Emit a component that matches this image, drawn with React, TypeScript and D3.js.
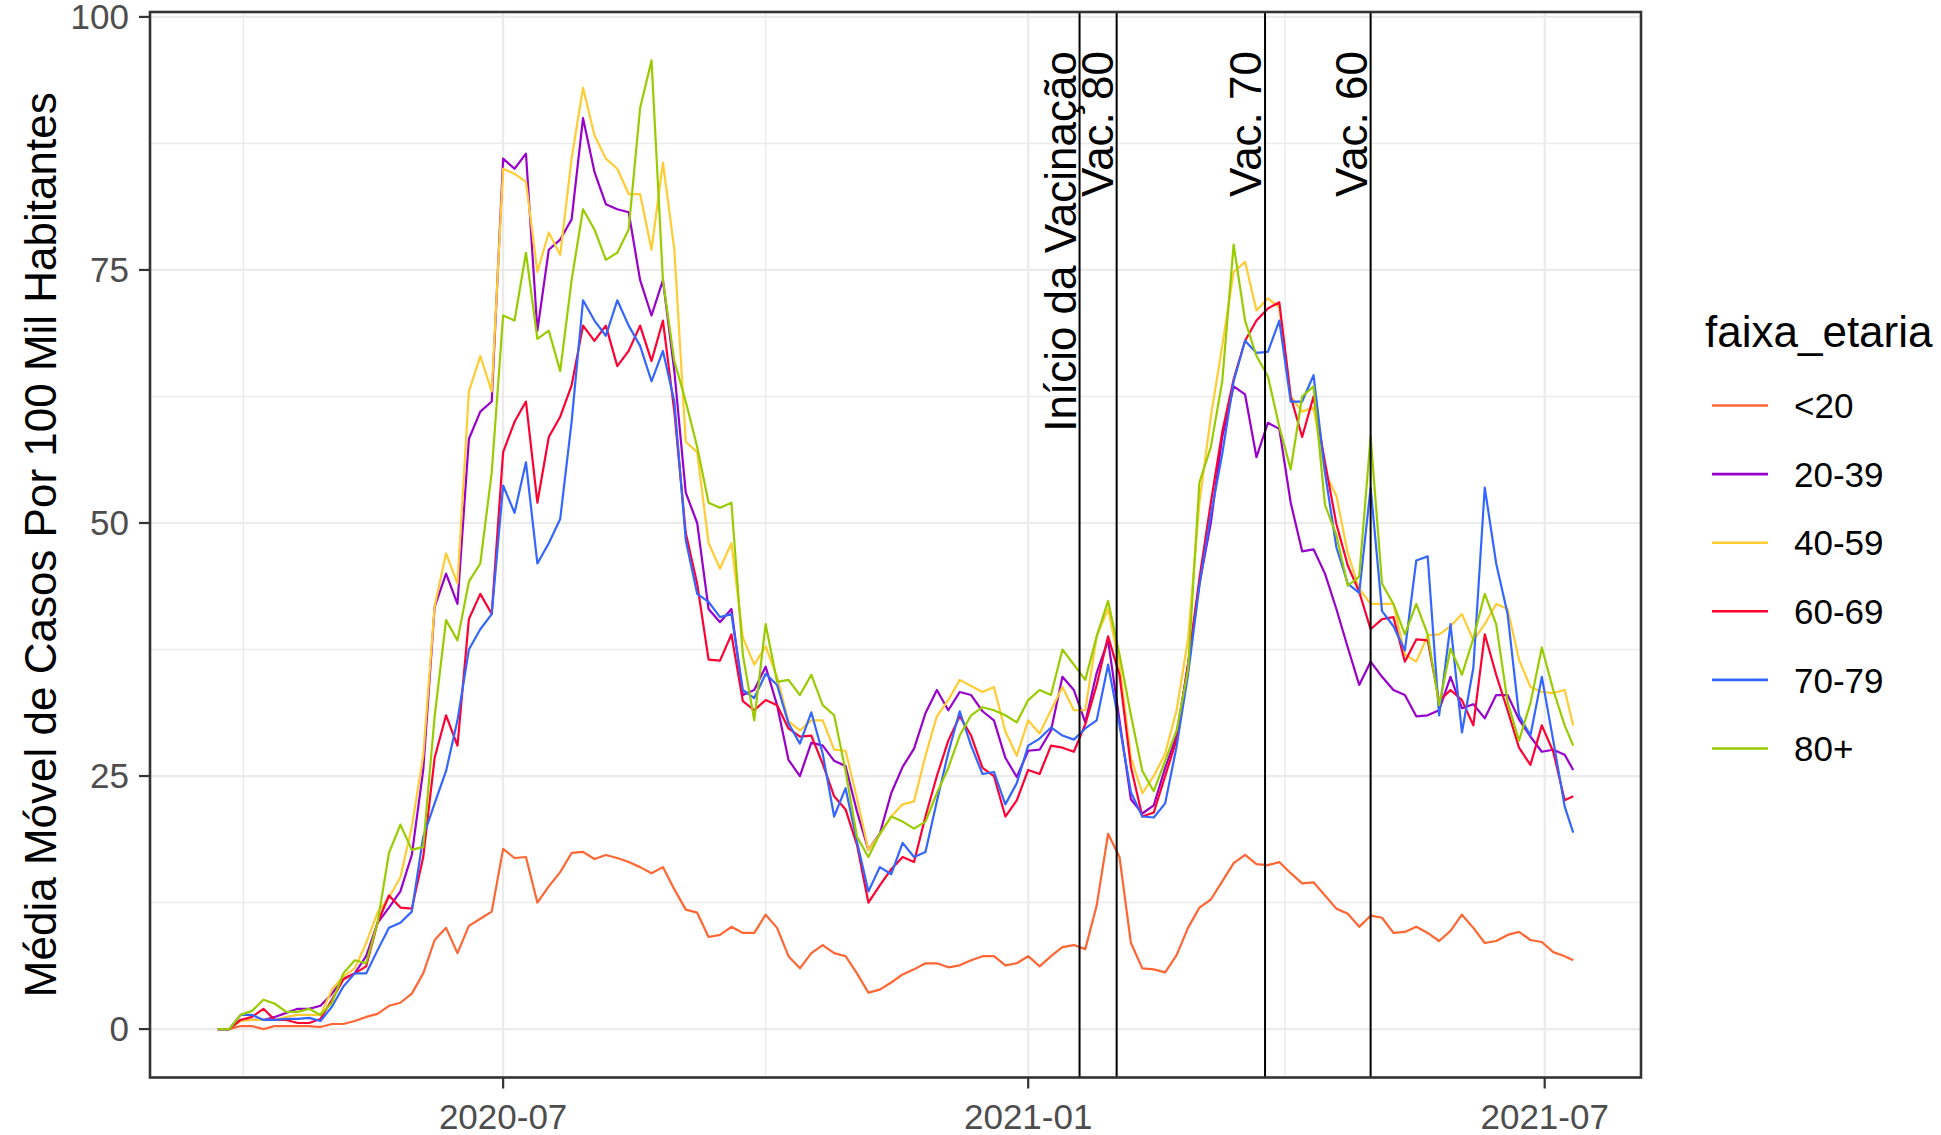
import React from "react";
import * as d3 from "d3";

const W = 1941;
const H = 1135;

// sampling of the moving-average series (every 4 days from START, last sample clamped to END)
const START = "2020-03-23";
const END = "2021-07-11";
const STEP_DAYS = 4;

const groups = ["<20", "20-39", "40-59", "60-69", "70-79", "80+"];
const colors = ["#FF6633", "#9900CC", "#FFCC33", "#FF0033", "#3366FF", "#99CC00"];

const lt20 = [
  0, 0, 0.3, 0.3, 0, 0.3, 0.3, 0.3, 0.3, 0.2,
  0.5, 0.5, 0.8, 1.2, 1.5, 2.3, 2.6, 3.5, 5.5, 8.8,
  10, 7.5, 10.2, 10.9, 11.6, 17.8, 16.9, 17, 12.5, 14.1,
  15.5, 17.4, 17.5, 16.8, 17.2, 16.9, 16.5, 16, 15.4, 16,
  13.8, 11.8, 11.5, 9.1, 9.3, 10.1, 9.5, 9.5, 11.3, 10,
  7.2, 6, 7.5, 8.3, 7.5, 7.2, 5.5, 3.6, 3.9, 4.6,
  5.4, 5.9, 6.5, 6.5, 6.1, 6.3, 6.8, 7.2, 7.2, 6.3,
  6.5, 7.2, 6.2, 7.2, 8.1, 8.3, 7.9, 12.2, 19.3, 17,
  8.5, 6, 5.9, 5.6, 7.3, 10, 12, 12.8, 14.6, 16.4,
  17.2, 16.3, 16.2, 16.5, 15.4, 14.4, 14.5, 13.2, 11.9, 11.4,
  10.1, 11.2, 11, 9.5, 9.6, 10.1, 9.5, 8.7, 9.7, 11.3,
  10, 8.5, 8.7, 9.3, 9.6, 8.8, 8.6, 7.6, 7.2, 6.8,
];

const g20_39 = [
  0, 0, 0.9, 0.9, 0.9, 1.2, 1.6, 2, 2, 2.3,
  3.5, 5, 5.5, 7.2, 10.5, 12, 13.6, 17.2, 25.6, 41.7,
  45, 42, 58.3, 61, 62, 86, 85, 86.5, 69, 77,
  78, 80, 90, 84.7, 81.5, 81, 80.7, 74, 70.5, 74,
  65, 53, 50, 41.5, 40.2, 41.5, 33, 33.5, 35.8, 32,
  26.6, 25, 28.3, 28, 26.5, 26, 21.5, 17.7, 19.3, 23.3,
  25.9, 27.7, 31.2, 33.5, 31.5, 33.3, 33, 31.4, 30.5, 26.8,
  24.9, 27.5, 27.6, 29.5, 34.8, 33.5, 30.3, 35.2, 38.4, 30.5,
  22.7, 21.3, 22.1, 25.8, 29, 36, 44, 50, 58.5, 63.5,
  62.7, 56.5, 59.9, 59.3, 52, 47.2, 47.4, 45, 41.5, 37.7,
  34, 36.3, 34.8, 33.5, 33, 30.9, 31, 31.5, 34.8, 31.7,
  32.1, 30.7, 33, 33, 30.6, 28.9, 27.4, 27.6, 27.1, 25.6,
];

const g40_59 = [
  0, 0, 0.8, 0.9, 0.9, 0.9, 1.2, 1.4, 1.4, 1.4,
  3.9, 5.2, 6, 8.5, 11.5, 13, 15, 20, 27, 41.8,
  47, 44, 63, 66.5, 63, 85, 84.5, 83.7, 74.8, 78.7,
  76.5, 86, 93, 88.3, 86, 85, 82.5, 82.5, 77, 85.6,
  77, 58, 57, 48, 45.5, 48, 38.7, 36, 37.8, 34.8,
  30.4, 29.5, 30.5, 30.5, 27.6, 27.5, 22.8, 17.7, 19.2, 21,
  22.2, 22.5, 27, 30.9, 32.5, 34.5, 33.9, 33.3, 33.8, 29.4,
  27, 30.5, 29.2, 31.5, 33.8, 31.5, 31.5, 38.8, 41.5, 36,
  26.8, 23.3, 25, 27.2, 31.5, 38.5, 52, 60.5, 67.5, 74.8,
  75.8, 71, 72.2, 71.3, 62.5, 61, 61.4, 55, 52.7, 47,
  43.5, 42, 42, 42, 37, 36.3, 38.9, 39, 39.8, 41,
  38.4, 40, 42, 41.5, 36.5, 33.8, 33.3, 33.2, 33.5, 30,
];

const g60_69 = [
  0, 0, 0.9, 1.2, 2, 0.9, 0.9, 0.6, 0.6, 1,
  2.9, 4.9, 5.5, 6.2, 10.5, 13.2, 12, 11.9, 17, 26.8,
  31, 28, 40.5, 43, 41, 57, 60, 62, 52, 58.5,
  60.5, 63.6, 69.5, 68, 69.5, 65.5, 67, 69.5, 66, 70,
  61, 49, 44, 36.5, 36.4, 39, 32.4, 31.5, 32.5, 32,
  29.7, 28.9, 29, 26.2, 23, 21.7, 18.2, 12.5, 14.2, 15.8,
  17, 16.5, 21, 25, 28.5, 30.9, 29, 25.8, 25, 21,
  22.6, 25.6, 25.2, 28, 27.8, 27.4, 30.1, 34, 38.8, 35,
  25.9, 21, 21.4, 25, 28.6, 36, 44.5, 52, 59, 64.2,
  68, 70, 71.2, 71.8, 62.5, 58.5, 62.5, 56, 49.9, 45.8,
  43.2, 39.5, 40.5, 40.7, 36.3, 38.5, 38.4, 32.4, 33.5, 32.5,
  30, 39, 35, 31.5, 27.8, 26.1, 30, 27.4, 22.6, 23,
];

const g70_79 = [
  0, 0, 1.4, 1.4, 0.9, 0.9, 1, 1, 1.1, 0.8,
  2.2, 4.2, 5.5, 5.5, 7.8, 10, 10.5, 11.6, 19, 22.3,
  25.5, 30.5, 37.5, 39.5, 41, 53.7, 51, 56, 46, 48,
  50.4, 60, 72, 70, 68.5, 72, 69.5, 67.5, 64, 67,
  62, 48.3, 43, 42.2, 40.7, 41, 33.5, 32.7, 35.1, 34,
  30.2, 28.2, 31.3, 27.2, 21, 23.8, 18.5, 13.6, 16, 15.3,
  18.4, 17, 17.5, 22.5, 27.3, 31.4, 28, 25.2, 25.4, 22.2,
  24.3, 28, 28.7, 29.8, 29, 28.6, 29.7, 30.5, 36, 30,
  23.4, 21, 20.9, 22.3, 27.9, 35, 43.8, 50.8, 56.8, 64,
  68, 66.8, 66.9, 70, 62, 62, 64.6, 55, 47.6, 44,
  43.1, 53.5, 41.3, 39.8, 37.4, 46.3, 46.7, 31, 40, 29.3,
  35.7, 53.5, 46, 41, 31, 29, 34.8, 28.5, 22, 19.4,
];

const g80p = [
  0, 0, 1.4, 1.8, 2.9, 2.5, 1.7, 1.7, 2, 1.4,
  2.6, 5.5, 6.8, 6.5, 10.5, 17.4, 20.2, 17.7, 18, 30.9,
  40.4, 38.4, 44.2, 46, 55, 70.5, 70, 76.7, 68.2, 69,
  65, 74, 81, 79, 76, 76.7, 79, 91, 95.7, 74,
  66, 62, 57.5, 52, 51.5, 52, 37, 30.5, 40, 34.3,
  34.5, 33, 35, 32, 31, 25.5, 19, 17, 19.3, 21,
  20.5, 19.8, 20.5, 23.3, 25.8, 29, 31, 31.8, 31.5, 31,
  30.3, 32.5, 33.5, 33, 37.5, 36, 34.5, 38.8, 42.3, 37,
  31, 25.5, 23.5, 26.5, 29.5, 35.5, 54, 57.5, 64, 77.5,
  70, 66.5, 64.5, 59.5, 55.3, 62.5, 63.5, 51.8, 48.8, 43.8,
  44.7, 58.5, 44, 42, 39, 42, 39, 32, 37.6, 35,
  38.6, 43, 40, 32.3, 28.5, 32.2, 37.7, 33.5, 30, 28,
];

const xTickDates = ["2020-07-01", "2021-01-01", "2021-07-01"];
const xTickLabels = ["2020-07", "2021-01", "2021-07"];
const xMinorDates = ["2020-04-01", "2020-10-01", "2021-04-01"];
const yTicks = [0, 25, 50, 75, 100];
const yMinor = [12.5, 37.5, 62.5, 87.5];

const eventDates = ["2021-01-19", "2021-02-01", "2021-03-25", "2021-05-01"];
const eventLabels = ["Início da Vacinação", "Vac. 80", "Vac. 70", "Vac. 60"];

const yTitle = "Média Móvel de Casos Por 100 Mil Habitantes";
const legendTitle = "faixa_etaria";

const FONT = "'Liberation Sans', Arial, Helvetica, sans-serif";

export default function App() {
  const parse = d3.utcParse("%Y-%m-%d");
  const start = parse(START) as Date;
  const end = parse(END) as Date;
  const series = [lt20, g20_39, g40_59, g60_69, g70_79, g80p];
  const dates = lt20.map((_, i) => {
    const d = d3.utcDay.offset(start, STEP_DAYS * i);
    return d > end ? end : d;
  });

  const PL = 150, PR = 1641, PT = 12, PB = 1077.5;
  const span = end.getTime() - start.getTime();
  const x = d3
    .scaleUtc()
    .domain([new Date(start.getTime() - 0.05 * span), new Date(end.getTime() + 0.05 * span)])
    .range([PL, PR]);
  const maxV = d3.max(series.flat()) as number;
  const y = d3.scaleLinear().domain([-0.05 * maxV, 1.05 * maxV]).range([PB, PT]);

  const line = d3
    .line<number>()
    .x((_, i) => x(dates[i]))
    .y((v) => y(v));

  const gridCol = "#EBEBEB";
  const axisCol = "#333333";
  const tickTextCol = "#4D4D4D";

  const legX = 1705;
  const legTitleY = 347;
  const keyX1 = 1712, keyX2 = 1768, labX = 1794;
  const key0 = 405.5, keyStep = 68.6;

  return (
    <svg
      width={W}
      height={H}
      viewBox={`0 0 ${W} ${H}`}
      style={{ position: "absolute", left: 0, top: 0, background: "#fff", fontFamily: FONT }}
    >
      <rect x={0} y={0} width={W} height={H} fill="#fff" />
      {/* minor grid */}
      {yMinor.map((v) => (
        <line key={"ym" + v} x1={PL} x2={PR} y1={y(v)} y2={y(v)} stroke={gridCol} strokeWidth={1.4} />
      ))}
      {xMinorDates.map((d) => (
        <line key={"xm" + d} x1={x(parse(d) as Date)} x2={x(parse(d) as Date)} y1={PT} y2={PB} stroke={gridCol} strokeWidth={1.4} />
      ))}
      {/* major grid */}
      {yTicks.map((v) => (
        <line key={"yg" + v} x1={PL} x2={PR} y1={y(v)} y2={y(v)} stroke={gridCol} strokeWidth={2.2} />
      ))}
      {xTickDates.map((d) => (
        <line key={"xg" + d} x1={x(parse(d) as Date)} x2={x(parse(d) as Date)} y1={PT} y2={PB} stroke={gridCol} strokeWidth={2.2} />
      ))}

      {/* data lines */}
      {series.map((s, k) => (
        <path
          key={groups[k]}
          d={line(s) || ""}
          fill="none"
          stroke={colors[k]}
          strokeWidth={2.2}
          strokeLinejoin="round"
        />
      ))}

      {/* vertical event lines */}
      {eventDates.map((d, k) => {
        const xv = x(parse(d) as Date);
        return (
          <g key={"ev" + k}>
            <line x1={xv} x2={xv} y1={PT} y2={PB} stroke="#000" strokeWidth={2} />
            <text
              transform={`translate(${xv - 4},${51}) rotate(-90)`}
              textAnchor="end"
              fontSize={44}
              fill="#000"
            >
              {eventLabels[k]}
            </text>
          </g>
        );
      })}

      {/* panel border */}
      <rect x={PL} y={PT} width={PR - PL} height={PB - PT} fill="none" stroke={axisCol} strokeWidth={2.6} />

      {/* y axis */}
      {yTicks.map((v) => (
        <g key={"yt" + v}>
          <line x1={PL - 11} x2={PL} y1={y(v)} y2={y(v)} stroke={axisCol} strokeWidth={2.2} />
          <text x={PL - 21} y={y(v)} dy="0.35em" textAnchor="end" fontSize={35} fill={tickTextCol}>
            {v}
          </text>
        </g>
      ))}
      {/* x axis */}
      {xTickDates.map((d, k) => {
        const xv = x(parse(d) as Date);
        return (
          <g key={"xt" + d}>
            <line x1={xv} x2={xv} y1={PB} y2={PB + 11} stroke={axisCol} strokeWidth={2.2} />
            <text x={xv} y={1129} textAnchor="middle" fontSize={35} fill={tickTextCol}>
              {xTickLabels[k]}
            </text>
          </g>
        );
      })}

      {/* y title */}
      <text transform={`translate(56,${(PT + PB) / 2}) rotate(-90)`} textAnchor="middle" fontSize={44} fill="#000">
        {yTitle}
      </text>

      {/* legend */}
      <text x={legX} y={legTitleY} fontSize={44} fill="#000">
        {legendTitle}
      </text>
      {groups.map((g, k) => {
        const yy = key0 + keyStep * k;
        return (
          <g key={"lg" + g}>
            <line x1={keyX1} x2={keyX2} y1={yy} y2={yy} stroke={colors[k]} strokeWidth={2.6} />
            <text x={labX} y={yy} dy="0.36em" fontSize={35} fill="#000">
              {g}
            </text>
          </g>
        );
      })}
    </svg>
  );
}
